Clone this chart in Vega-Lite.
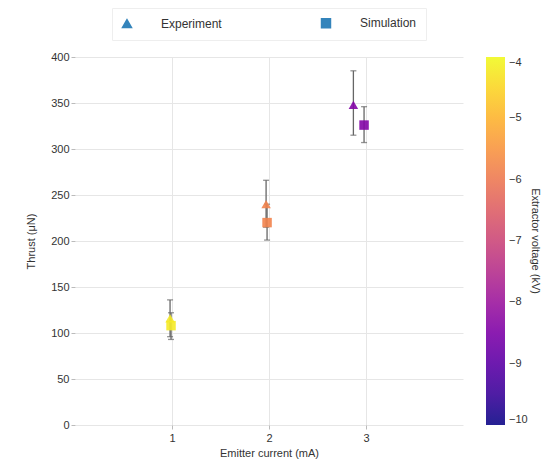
{
  "$schema": "https://vega.github.io/schema/vega-lite/v6.json",
  "width": 388,
  "height": 368,
  "autosize": {"type": "none"},
  "padding": {"left": 75, "top": 57, "right": 79, "bottom": 40},
  "background": "white",
  "config": {
    "font": "Liberation Sans",
    "view": {"stroke": null},
    "axis": {"grid": true, "gridColor": "#e6e6e6", "domain": false, "tickColor": "#bbbbbb", "tickSize": 4, "labelFontSize": 11, "labelColor": "#333333", "titleFontSize": 11, "titleFontWeight": "normal", "titleColor": "#333333"}
  },
  "data": {
    "values": [
      {"current": 0.98, "thrust": 116, "lo": 96, "hi": 136, "type": "Experiment", "voltage": -4.2},
      {"current": 1.97, "thrust": 240, "lo": 215, "hi": 266, "type": "Experiment", "voltage": -5.8},
      {"current": 2.87, "thrust": 348, "lo": 315, "hi": 385, "type": "Experiment", "voltage": -8.4},
      {"current": 0.99, "thrust": 108, "lo": 93, "hi": 122, "type": "Simulation", "voltage": -4.2},
      {"current": 1.98, "thrust": 220, "lo": 201, "hi": 240, "type": "Simulation", "voltage": -5.8},
      {"current": 2.98, "thrust": 326, "lo": 307, "hi": 346, "type": "Simulation", "voltage": -8.4}
    ]
  },
  "encoding": {
    "x": {"field": "current", "type": "quantitative", "scale": {"domain": [0, 4], "nice": false}, "axis": {"values": [1, 2, 3], "title": "Emitter current (mA)", "titlePadding": 4, "labelPadding": 3}}
  },
  "layer": [
    {
      "mark": {"type": "rule", "color": "#666666", "strokeWidth": 1.3},
      "encoding": {
        "y": {"field": "lo", "type": "quantitative", "scale": {"domain": [0, 400], "nice": false}, "axis": {"values": [0, 50, 100, 150, 200, 250, 300, 350, 400], "title": "Thrust (μN)", "titlePadding": 14}},
        "y2": {"field": "hi"}
      }
    },
    {
      "mark": {"type": "tick", "orient": "horizontal", "color": "#666666", "size": 6, "thickness": 1.3},
      "encoding": {"y": {"field": "lo", "type": "quantitative"}}
    },
    {
      "mark": {"type": "tick", "orient": "horizontal", "color": "#666666", "size": 6, "thickness": 1.3},
      "encoding": {"y": {"field": "hi", "type": "quantitative"}}
    },
    {
      "mark": {"type": "point", "filled": true, "size": 90, "opacity": 0.9},
      "encoding": {
        "y": {"field": "thrust", "type": "quantitative"},
        "shape": {"field": "type", "type": "nominal", "scale": {"domain": ["Experiment", "Simulation"], "range": ["triangle-up", "square"]},
          "legend": {"title": null, "orient": "none", "legendX": 37, "legendY": -49, "direction": "horizontal", "columnPadding": 96, "symbolFillColor": "#1f77b4", "symbolStrokeColor": "#1f77b4", "symbolSize": 80, "labelFontSize": 12, "labelColor": "#333333", "labelOffset": 28, "strokeColor": "#eeeeee", "padding": 9, "fillColor": "white"}},
        "color": {"field": "voltage", "type": "quantitative", "scale": {"scheme": "plasma", "domain": [-10, -4]},
          "legend": {"title": "Extractor voltage (kV)", "orient": "none", "legendX": 411, "legendY": 0, "gradientLength": 368, "gradientThickness": 19, "values": [-4, -5, -6, -7, -8, -9, -10], "titleOrient": "right", "titleAngle": 90, "titleAnchor": "middle", "titleFontSize": 11, "titleFontWeight": "normal", "titleColor": "#333333", "labelFontSize": 11, "labelColor": "#333333", "labelOffset": 4, "titlePadding": 2, "direction": "vertical"}}
      }
    }
  ]
}
